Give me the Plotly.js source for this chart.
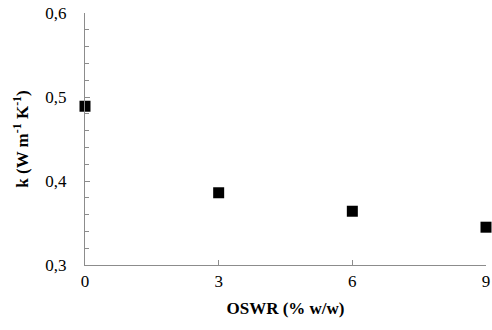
<!DOCTYPE html>
<html><head><meta charset="utf-8">
<script src="https://cdn.plot.ly/plotly-3.0.1.min.js"></script>
<style>html,body{margin:0;padding:0;background:#fff}</style>
</head><body><div id="chart" style="width:492px;height:330px"></div>
<script>
const oswr = [0, 3, 6, 9];
const kValues = [0.489, 0.386, 0.364, 0.345];
const xTicks = [0, 3, 6, 9];
const yTicks = [0.3, 0.4, 0.5, 0.6];
const yTickLabels = ['0,3', '0,4', '0,5', '0,6'];

const fam = 'Liberation Serif, Times New Roman, serif';
const f = (s) => ({family: fam, size: s, color: '#000'});
Plotly.newPlot('chart', [{
  x: oswr, y: kValues, type: 'scatter', mode: 'markers', cliponaxis: false,
  marker: {symbol: 'square', size: 11, color: '#000'}
}], {
  width: 492, height: 330,
  margin: {l: 85, r: 6, t: 13, b: 65},
  paper_bgcolor: '#fff', plot_bgcolor: '#fff',
  font: f(17),
  showlegend: false,
  xaxis: {
    range: [0, 9], tickvals: xTicks, ticktext: xTicks.map(String),
    showgrid: false, zeroline: false, showline: true, linecolor: '#8c8c8c', linewidth: 1.2,
    ticks: 'inside', ticklen: 5, tickcolor: '#8c8c8c', tickfont: f(17), ticklabelstandoff: 0,
    title: {text: '<b>OSWR (% w/w)</b>', font: f(17), standoff: 12}
  },
  yaxis: {
    range: [0.3, 0.6], tickvals: yTicks, ticktext: yTickLabels,
    showgrid: false, zeroline: false, showline: true, linecolor: '#8c8c8c', linewidth: 1.2,
    ticks: 'inside', ticklen: 5, tickcolor: '#8c8c8c', tickfont: f(17), ticklabelstandoff: 14,
    minor: {dtick: 0.02, ticks: 'inside', ticklen: 4, tickcolor: '#8c8c8c', showgrid: false},
    title: {text: '<b>k (W m<sup>-1</sup> K<sup>-1</sup>)</b>', font: f(17), standoff: 12}
  }
}, {displayModeBar: false, staticPlot: true});
</script></body></html>
